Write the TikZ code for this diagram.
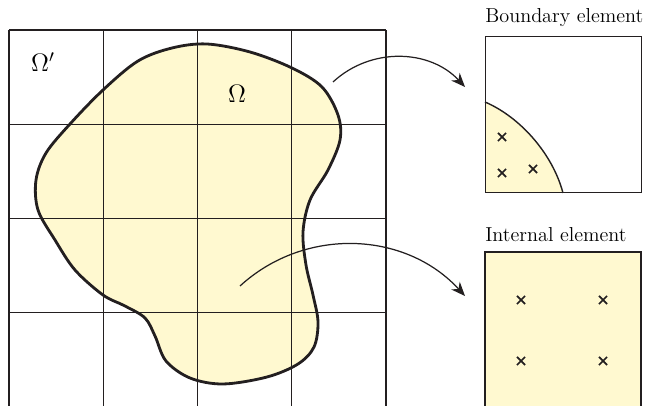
\documentclass[tikz,border=0pt]{standalone}
\usepackage{amsmath}
\usepackage{xcolor}
\usepackage{tikz}
\usetikzlibrary{arrows.meta}
\usetikzlibrary{shapes.misc}
\definecolor{domfill}{RGB}{255,249,208}
\definecolor{ink}{RGB}{35,31,32}

\begin{document}
\begin{tikzpicture}[
    gridline/.style={ink, line width=0.75pt},
    boundline/.style={ink, line width=1.6pt},
    boxline/.style={ink, line width=0.8pt},
    mapto/.style={ink, line width=0.7pt, -{Stealth[length=8pt,width=6.5pt]}, bend left=45},
    qpoint/.style={draw=ink, cross out, line width=1pt, minimum size=3.6pt, inner sep=0pt},
    lbl/.style={anchor=base west, inner sep=0pt, font=\fontsize{11.5}{13}\selectfont},
    dom/.style={inner sep=0pt, font=\fontsize{14.5}{17}\selectfont}
]
    \useasboundingbox (0,0) rectangle (12.96,8.12);

    \path[save path=\blob] plot[smooth cycle, tension=0.55] coordinates {
        (4.14,7.24) (5.00,7.08) (5.84,6.76) (6.44,6.38) (6.76,5.82)
        (6.80,5.32) (6.56,4.72) (6.20,4.12) (6.06,3.48) (6.12,2.82)
        (6.26,2.22) (6.36,1.68) (6.28,1.18) (5.96,0.84) (5.34,0.58)
        (4.46,0.44) (3.80,0.56) (3.32,0.90) (3.10,1.40) (2.90,1.76)
        (2.50,2.00) (2.06,2.22) (1.50,2.72) (1.10,3.32) (0.76,3.92)
        (0.72,4.52) (0.92,5.06) (1.40,5.64) (2.06,6.32) (2.76,6.90)
        (3.44,7.16)};
    \fill[domfill, use path=\blob];

    \foreach \x in {0.18,2.065,3.95,5.835,7.72}
        \draw[gridline] (\x,0) -- (\x,7.52);
    \foreach \y in {7.52,5.635,3.75,1.865}
        \draw[gridline] (0.18,\y) -- (7.72,\y);

    \draw[boundline, use path=\blob];

    \node[dom] (om1) at (0.86,6.88) {$\Omega'$};
    \node[dom] (om)  at (4.74,6.24) {$\Omega$};

    \fill[domfill] (9.70,4.26) -- (9.70,6.08) .. controls (10.4,5.78) and (11.05,5.05) .. (11.26,4.26) -- cycle;
    \draw[boxline] (9.70,6.08) .. controls (10.4,5.78) and (11.05,5.05) .. (11.26,4.26);
    \node[draw=ink, line width=0.8pt, minimum size=3.12cm, inner sep=0pt, anchor=south west] (be) at (9.70,4.26) {};
    \node[lbl] (bt) at (9.70,7.66) {Boundary element};
    \foreach \p [count=\i] in {(10.04,5.38),(10.04,4.66),(10.66,4.74)}
        \node[qpoint] (bq\i) at \p {};

    \fill[domfill] (9.70,0) rectangle (12.82,3.08);
    \draw[boxline] (9.70,0) |- (12.82,3.08) -- (12.82,0);
    \node[lbl] (it) at (9.70,3.28) {Internal element};
    \foreach \p [count=\i] in {(10.42,2.12),(12.06,2.12),(10.42,0.90),(12.06,0.90)}
        \node[qpoint] (iq\i) at \p {};

    \coordinate (a1) at (6.66,6.48);
    \coordinate (b1) at (9.30,6.38);
    \coordinate (a2) at (4.80,2.40);
    \coordinate (b2) at (9.30,2.20);
    \draw[mapto] (a1) to (b1);
    \draw[mapto] (a2) to (b2);
\end{tikzpicture}
\end{document}
